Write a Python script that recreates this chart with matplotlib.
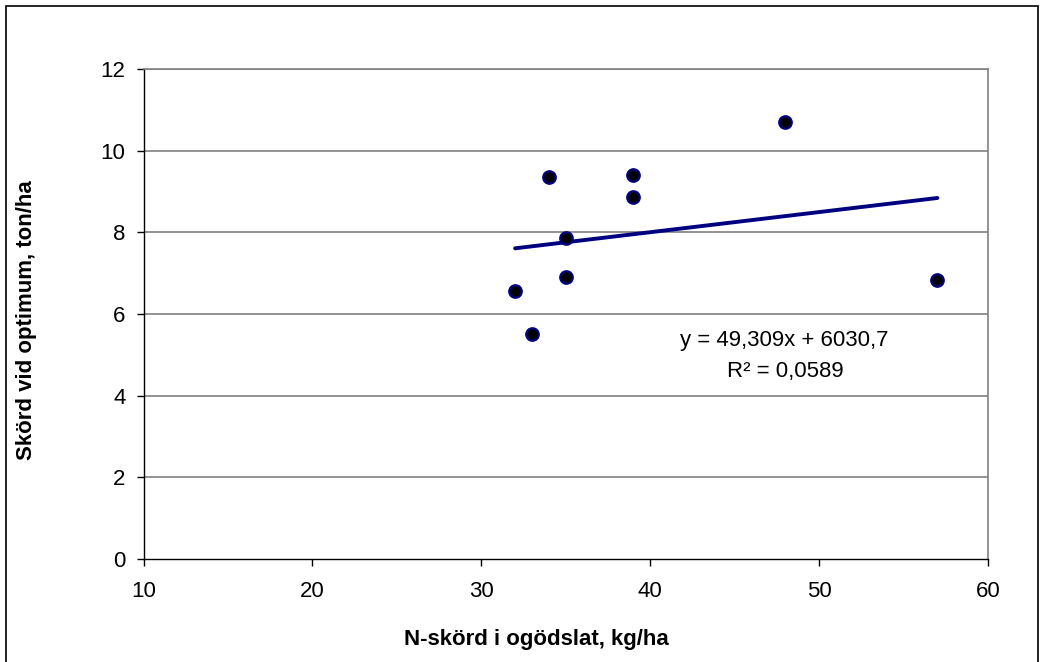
import matplotlib
matplotlib.use("Agg")
import matplotlib.pyplot as plt
from matplotlib.patches import Rectangle
import numpy as np

plt.rcParams['font.family'] = ['Liberation Sans', 'DejaVu Sans']

# N-skörd i ogödslat (kg/ha) och skörd vid optimum (ton/ha)
n_skord = [32, 33, 34, 35, 35, 39, 39, 48, 57]
skord_opt = [6.57, 5.50, 9.35, 7.87, 6.90, 9.40, 8.87, 10.70, 6.83]

# Linear trend as given in the chart (kg/ha units)
trend_slope = 49.309
trend_intercept = 6030.7
r2_text = "R\u00b2 = 0,0589"
eq_text = "y = 49,309x + 6030,7"

x_ticks = [10, 20, 30, 40, 50, 60]
y_ticks = [0, 2, 4, 6, 8, 10, 12]

W, H = 1040, 662
fig = plt.figure(figsize=(W / 100, H / 100), dpi=100)
ax = fig.add_axes([143.5 / W, 1 - 559 / H, (988 - 143.5) / W, (559 - 69) / H])

# gridlines
for yv in y_ticks[1:]:
    ax.axhline(yv, color='#808080', lw=1.2, zorder=1)

# trendline
xs = np.array([min(n_skord), max(n_skord)])
ys = (trend_slope * xs + trend_intercept) / 1000
ax.plot(xs, ys, color='#000080', lw=2.8, solid_capstyle='round', zorder=2)

# points
ax.plot(n_skord, skord_opt, 'o', ms=9, mfc='black', mec='#000080', mew=1.6,
        zorder=3, clip_on=False)

ax.set_xlim(10, 60)
ax.set_ylim(0, 12)
ax.set_xticks(x_ticks)
ax.set_yticks(y_ticks)
ax.tick_params(axis='both', labelsize=16, length=5, width=1, color='black')
ax.tick_params(axis='x', pad=11)
ax.tick_params(axis='y', pad=8)

for s in ['top', 'right']:
    ax.spines[s].set_color('#808080')
    ax.spines[s].set_linewidth(1.2)
for s in ['left', 'bottom']:
    ax.spines[s].set_color('black')
    ax.spines[s].set_linewidth(1)

fig.text(784 / W, 1 - 340 / H, eq_text, fontsize=16, ha='center', va='center')
fig.text(785 / W, 1 - 372 / H, r2_text, fontsize=16, ha='center', va='center')

fig.text(536 / W, 1 - 640 / H, "N-skörd i ogödslat, kg/ha", fontsize=16,
         fontweight='bold', ha='center', va='center')
fig.text(27 / W, 1 - 320 / H, "Skörd vid optimum, ton/ha", fontsize=16,
         fontweight='bold', ha='center', va='center', rotation=90)

# outer chart border (bottom edge lies below the image)
fig.patches.append(Rectangle((6 / W, -10 / H), (1038 - 6) / W, (666) / H,
                             transform=fig.transFigure, fill=False,
                             edgecolor='black', lw=1.2, clip_on=False))

fig.savefig("out.png", dpi=100)
